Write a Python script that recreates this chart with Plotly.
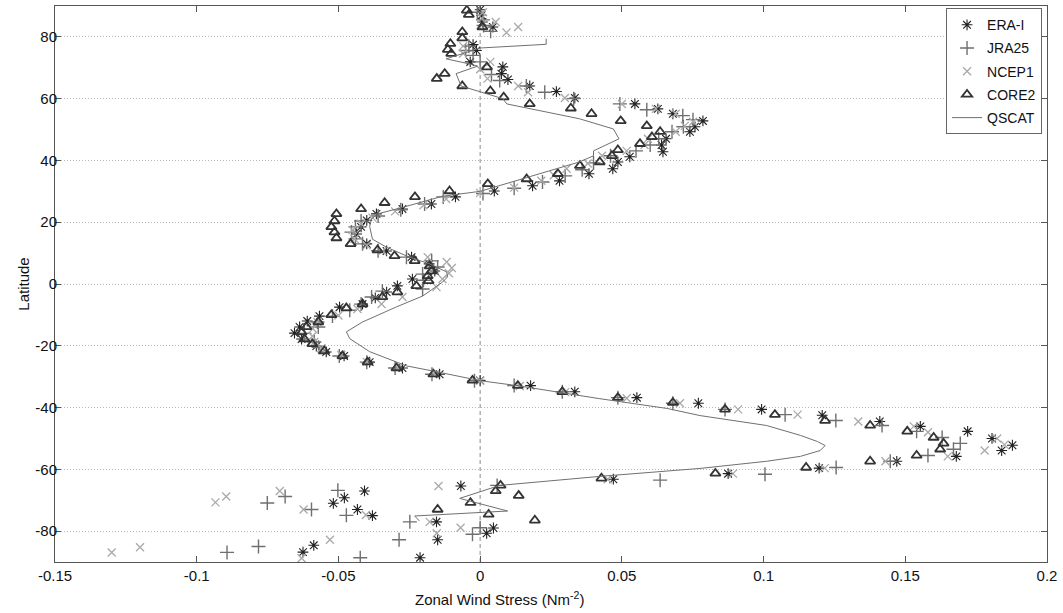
import plotly.graph_objects as go

# ---------------- data ----------------
x_ticks = [-0.15, -0.1, -0.05, 0, 0.05, 0.1, 0.15, 0.2]
x_tick_labels = ["-0.15", "-0.1", "-0.05", "0", "0.05", "0.1", "0.15", "0.2"]
y_ticks = [-80, -60, -40, -20, 0, 20, 40, 60, 80]
y_tick_labels = ["-80", "-60", "-40", "-20", "0", "20", "40", "60", "80"]

era_lat = [88.8, 87.0, 84.8, 83.2, 77.5, 75.6, 71.9, 70.3, 68.1, 66.2, 64.1, 62.3, 60.2,
           58.3, 56.7, 55.1, 52.8, 50.9, 49.3, 47.0, 45.0, 42.8, 41.2, 39.5, 37.3, 35.7,
           33.4, 31.8, 30.1, 28.2, 25.9, 24.3, 22.7, 20.6, 18.5, 16.2, 13.0, 10.7, 8.7,
           6.5, 4.2, 1.6, -0.6, -2.6, -4.5, -6.5, -7.5, -10.4, -12.0, -13.9, -15.9, -17.8,
           -20.1, -22.0, -23.3, -25.3, -27.2, -29.2, -31.2, -32.9, -34.9, -36.8, -38.6,
           -40.6, -42.5, -44.5, -46.1, -47.7, -50.0, -52.2, -53.9, -55.8, -57.4, -59.6,
           -61.4, -63.2, -65.4, -67.0, -69.2, -71.0, -73.0, -75.0, -77.0, -79.0, -80.7,
           -82.8, -84.6, -86.8, -88.6]
era_tau = [0.0, 0.0005, 0.0008, 0.0045, -0.0025, -0.0013, -0.0035, 0.008, 0.0075, 0.0098,
           0.0175, 0.0269, 0.0334, 0.0546, 0.0627, 0.068, 0.0786, 0.0758, 0.074, 0.0656,
           0.064, 0.0645, 0.0528, 0.0486, 0.0468, 0.0384, 0.028, 0.0185, 0.005, -0.0087,
           -0.0172, -0.0274, -0.0366, -0.04, -0.042, -0.0436, -0.04, -0.033, -0.0242,
           -0.018, -0.016, -0.0239, -0.0292, -0.033, -0.037, -0.0415, -0.0496, -0.0567,
           -0.061, -0.0637, -0.0655, -0.063, -0.0578, -0.0543, -0.048, -0.039, -0.0274,
           -0.0143, 0.0, 0.0178, 0.0334, 0.0553, 0.077, 0.0993, 0.1207, 0.141, 0.1553,
           0.172, 0.1806, 0.1878, 0.184, 0.168, 0.147, 0.1196, 0.0875, 0.047, -0.0068,
           -0.0408, -0.0479, -0.0518, -0.0433, -0.038, -0.0154, 0.0047, 0.0023, -0.015,
           -0.0587, -0.0625, -0.0212]

jra_lat = [88.0, 85.5, 83.7, 81.8, 77.0, 75.6, 74.0, 71.9, 67.8, 65.9, 64.1, 62.1, 60.0,
           58.3, 56.4, 54.5, 53.2, 50.9, 49.3, 47.0, 45.0, 43.1, 41.5, 39.2, 37.0, 35.0,
           33.0, 31.0, 29.3, 28.2, 25.9, 24.0, 22.0, 20.4, 18.5, 16.8, 14.6, 13.0, 10.8,
           8.7, 7.5, 5.5, 3.2, 1.2, -1.6, -2.3, -4.2, -6.5, -8.5, -10.4, -12.3, -13.9,
           -16.0, -18.8, -20.5, -23.3, -25.3, -27.2, -29.2, -31.3, -32.9, -34.9, -36.8,
           -38.6, -40.6, -42.3, -44.2, -45.8, -47.7, -49.7, -51.6, -53.5, -55.5, -57.4,
           -59.4, -61.6, -63.5, -65.2, -66.8, -68.8, -70.9, -73.0, -74.9, -77.0, -78.9,
           -81.0, -82.8, -85.0, -86.9, -88.6]
jra_tau = [-0.001, 0.001, 0.0012, 0.0037, -0.004, -0.0051, -0.0025, 0.0, 0.004, 0.0069,
           0.0163, 0.0228, 0.033, 0.0493, 0.0588, 0.0715, 0.0751, 0.0717, 0.0677, 0.063,
           0.06, 0.055, 0.046, 0.04, 0.036, 0.03, 0.022, 0.012, 0.001, -0.013, -0.0196,
           -0.028, -0.036, -0.042, -0.044, -0.0454, -0.044, -0.0415, -0.036, -0.026,
           -0.0171, -0.015, -0.0203, -0.02, -0.0203, -0.0345, -0.0383, -0.042, -0.046,
           -0.0521, -0.0574, -0.0571, -0.062, -0.0585, -0.057, -0.0497, -0.04, -0.03,
           -0.017, -0.002, 0.012, 0.029, 0.0486, 0.068, 0.0864, 0.1076, 0.1255, 0.1418,
           0.154, 0.163, 0.1694, 0.167, 0.158, 0.1447, 0.1256, 0.1005, 0.0635, 0.006,
           -0.0502, -0.0688, -0.0751, -0.0595, -0.0472, -0.0248, 0.0, -0.0027, -0.0286,
           -0.0782, -0.0893, -0.0423]

ncep_lat = [88.0, 86.0, 84.8, 83.2, 81.4, 77.0, 74.6, 71.9, 69.5, 66.5, 64.1, 62.1, 60.2,
            58.3, 56.7, 55.1, 52.5, 51.2, 49.3, 47.0, 45.0, 43.1, 41.5, 39.0, 37.3, 35.2,
            33.4, 31.2, 29.5, 27.5, 25.5, 23.5, 21.5, 19.5, 17.5, 14.6, 12.5, 10.7, 8.7,
            7.1, 5.2, 3.5, 1.6, -1.0, -4.2, -6.5, -8.1, -10.2, -12.3, -14.5, -16.9, -18.8,
            -20.8, -23.0, -25.2, -27.2, -29.2, -31.3, -33.0, -35.0, -37.0, -38.6, -40.6,
            -42.3, -44.5, -46.1, -48.0, -50.0, -52.0, -53.9, -55.8, -57.4, -59.6, -61.4,
            -63.2, -65.4, -67.0, -68.8, -70.7, -73.0, -74.8, -77.0, -78.9, -80.7, -82.8,
            -85.2, -86.9, -88.8]
ncep_tau = [0.001, 0.0005, 0.0055, 0.0134, 0.0093, -0.006, -0.006, 0.0036, 0.0, 0.0026,
            0.0134, 0.0169, 0.0299, 0.05, 0.062, 0.069, 0.0751, 0.0722, 0.069, 0.0592,
            0.058, 0.0517, 0.043, 0.038, 0.0305, 0.026, 0.0216, 0.012, 0.0, -0.012, -0.02,
            -0.03, -0.038, -0.042, -0.045, -0.0443, -0.04, -0.0345, -0.0185, -0.0118,
            -0.01, -0.011, -0.0133, -0.0154, -0.0274, -0.0348, -0.0433, -0.05, -0.0574,
            -0.059, -0.0592, -0.0585, -0.056, -0.049, -0.04, -0.029, -0.016, 0.0, 0.014,
            0.03, 0.0517, 0.0705, 0.091, 0.112, 0.1334, 0.153, 0.158, 0.1824, 0.185, 0.178,
            0.165, 0.143, 0.1216, 0.0892, 0.045, -0.0147, -0.0707, -0.0896, -0.0934,
            -0.0623, -0.0403, -0.0178, -0.0069, -0.0153, -0.053, -0.12, -0.13, -0.063]

core_lat = [88.6, 87.2, 83.2, 81.6, 79.6, 77.8, 75.9, 74.6, 70.2, 68.1, 66.5, 64.1, 62.5,
            60.5, 58.3, 56.9, 55.1, 52.8, 51.2, 49.3, 47.6, 45.4, 43.4, 41.5, 39.5, 38.3,
            35.7, 34.0, 32.4, 30.1, 28.2, 26.3, 24.3, 22.7, 20.4, 18.5, 16.8, 14.9, 13.0,
            11.0, 9.1, 7.5, 5.8, 4.2, 2.6, 1.0, -0.6, -2.6, -4.2, -6.5, -7.8, -10.0, -12.3,
            -13.9, -15.6, -17.8, -19.4, -21.7, -23.3, -25.3, -27.2, -29.2, -31.2, -32.9,
            -34.9, -36.8, -38.4, -40.6, -42.3, -44.2, -45.8, -47.7, -49.7, -51.6, -53.5,
            -55.5, -57.4, -59.4, -61.3, -62.9, -65.2, -67.0, -68.5, -70.8, -73.0, -74.6,
            -76.5]
core_tau = [-0.0047, -0.004, 0.0008, -0.0063, -0.0063, -0.0105, -0.0114, -0.0102, 0.0024,
            -0.0125, -0.0153, -0.0063, 0.0036, 0.0083, 0.0175, 0.032, 0.0393, 0.0496,
            0.0588, 0.0635, 0.0606, 0.0564, 0.0486, 0.0465, 0.0422, 0.0352, 0.0274, 0.0164,
            0.0027, -0.0108, -0.023, -0.0337, -0.042, -0.0507, -0.0514, -0.0525, -0.0514,
            -0.0507, -0.0457, -0.0362, -0.0302, -0.0231, -0.0178, -0.0171, -0.0185,
            -0.0182, -0.0225, -0.0292, -0.0345, -0.0415, -0.0472, -0.0525, -0.0571,
            -0.0613, -0.063, -0.062, -0.0592, -0.055, -0.0486, -0.0397, -0.0295, -0.0165,
            -0.0027, 0.0133, 0.029, 0.0486, 0.068, 0.0864, 0.104, 0.1217, 0.1376, 0.1507,
            0.16, 0.1635, 0.1623, 0.154, 0.1376, 0.115, 0.083, 0.0428, 0.0072, 0.0055,
            0.0136, -0.0034, -0.015, 0.003, 0.0193]

qscat_lat = [79.4, 77.6, 76.4, 72.9, 71.2, 70.5, 68.1, 64.1, 60.0, 58.3, 53.5, 50.2, 47.0,
             43.1, 41.5, 39.5, 30.0, 28.4, 24.8, 22.6, 21.0, 18.7, 14.5, 11.9, 8.7, 6.5,
             3.9, 2.3, 0.6, -3.9, -7.4, -12.3, -15.5, -17.7, -21.9, -26.5, -28.4, -30.0,
             -31.3, -32.9, -37.1, -40.3, -42.6, -45.8, -49.0, -51.0, -52.3, -53.9, -55.8,
             -57.4, -59.7, -62.3, -63.5, -65.2, -69.4, -73.5, -75.1, -76.7]
qscat_tau = [0.0233, 0.0233, 0.0, -0.012, -0.0035, -0.001, -0.0085, -0.0067, 0.008, 0.0094,
             0.035, 0.047, 0.049, 0.04, 0.04, 0.035, 0.0, -0.0133, -0.0274, -0.0366,
             -0.0383, -0.039, -0.038, -0.033, -0.025, -0.0178, -0.0118, -0.0115, -0.0133,
             -0.0203, -0.0295, -0.0415, -0.0472, -0.046, -0.039, -0.026, -0.0154, -0.0062,
             0.0, 0.013, 0.042, 0.066, 0.0776, 0.101, 0.113, 0.119, 0.1217, 0.12, 0.113,
             0.101, 0.0776, 0.042, 0.028, 0.0069, -0.0072, 0.0097, -0.0231, -0.0214]

# ---------------- figure ----------------
fig = go.Figure()

fig.add_trace(go.Scatter(
    x=era_tau, y=era_lat, mode="markers", name="ERA-I", legendgroup="g1",
    marker=dict(symbol="asterisk-open", size=9, color="#222222",
                line=dict(width=1.1, color="#222222"))))
fig.add_trace(go.Scatter(
    x=jra_tau, y=jra_lat, mode="markers", name="JRA25", legendgroup="g2",
    marker=dict(symbol="cross-thin-open", size=10, color="#6f6f6f",
                line=dict(width=1.4, color="#6f6f6f"))))
fig.add_trace(go.Scatter(
    x=ncep_tau, y=ncep_lat, mode="markers", name="NCEP1", legendgroup="g3",
    marker=dict(symbol="x-thin-open", size=8, color="#a9a9a9",
                line=dict(width=1.3, color="#a9a9a9"))))
fig.add_trace(go.Scatter(
    x=core_tau, y=core_lat, mode="markers", name="CORE2", legendgroup="g4",
    marker=dict(symbol="triangle-up-open", size=9, color="#333333",
                line=dict(width=1.8, color="#333333"))))
fig.add_trace(go.Scatter(
    x=qscat_tau, y=qscat_lat, mode="lines", name="QSCAT", legendgroup="g5",
    line=dict(color="#707070", width=1)))

fig.add_vline(x=0, line=dict(color="#8a8a8a", width=1, dash="4px,3px"), layer="below")

axis_common = dict(
    showline=True, linecolor="#555555", linewidth=1, mirror="ticks",
    ticks="inside", ticklen=6, tickcolor="#555555", zeroline=False,
    automargin=False, tickfont=dict(size=15, color="#111111"))

fig.update_xaxes(
    range=[-0.15, 0.2], tickvals=x_ticks, ticktext=x_tick_labels, showgrid=False,
    **axis_common)
fig.update_yaxes(
    range=[-90, 90], tickvals=y_ticks, ticktext=y_tick_labels, showgrid=True,
    gridcolor="#b8b8b8", griddash="1px,2px", gridwidth=1, ticklabelstandoff=-6,
    title=dict(text="Latitude", font=dict(size=15, color="#111111"), standoff=2),
    **axis_common)

fig.add_annotation(
    text="Zonal Wind Stress (Nm<sup>-2</sup>)", xref="paper", yref="paper",
    x=0.4476, y=-0.045, xanchor="center", yanchor="top", showarrow=False,
    font=dict(size=15, color="#111111"))

fig.update_layout(
    width=1063, height=613,
    margin=dict(l=55, r=16, t=6, b=51),
    paper_bgcolor="white", plot_bgcolor="white",
    font=dict(family="Liberation Sans, Arial, sans-serif", size=15, color="#111111"),
    legend=dict(x=0.995, y=0.996, xanchor="right", yanchor="top",
                bordercolor="#666666", borderwidth=1, bgcolor="white",
                font=dict(size=14, color="#111111"), itemwidth=30, tracegroupgap=2),
    showlegend=True)

fig.write_html("out.html", config={"displayModeBar": False},
               post_script="document.body.style.margin='0px';document.body.style.overflow='hidden';")
